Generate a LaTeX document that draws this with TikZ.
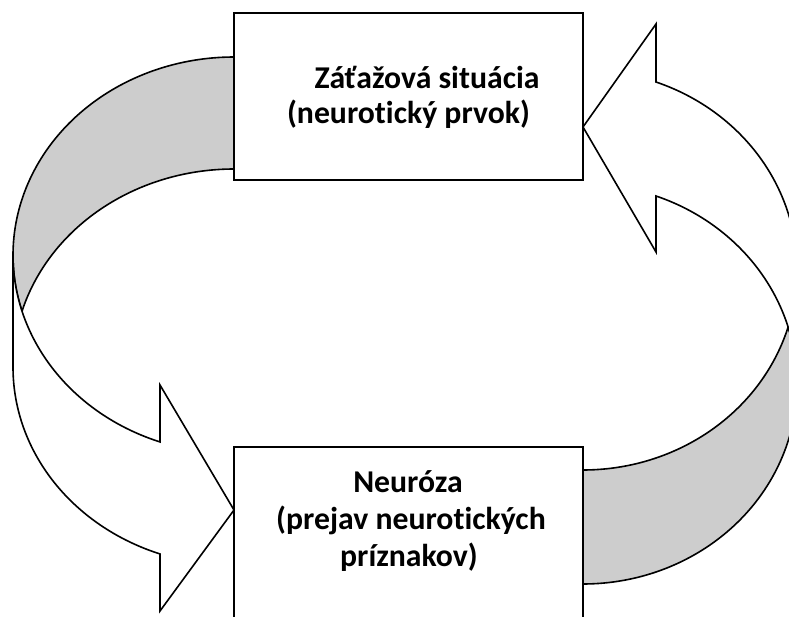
\documentclass[tikz,border=0pt]{standalone}
\usepackage{fontspec}
\setmainfont{Carlito}[Ligatures=NoCommon]
\definecolor{bandgray}{RGB}{205,205,205}
\begin{document}
\begin{tikzpicture}[x=0.75pt,y=-0.75pt,
  outline/.style={draw=black,line width=1.2pt,line join=miter},
  backband/.style={outline,fill=bandgray},
  frontband/.style={outline,fill=white},
  boxstyle/.style={outline,fill=white,rectangle,inner sep=0pt},
  label/.style={font=\fontsize{23.8}{28.5}\selectfont\bfseries,anchor=base,inner sep=0pt}]
\clip (0,0) rectangle (789,617);
\fill[white] (0,0) rectangle (789,617);
% ---- left curved arrow (points to lower box) ----
\coordinate (tipL) at (234,510);
\filldraw[backband] plot[domain=270:196.41,samples=80] ({234+221*cos(\x)},{367.2+198.2*sin(\x)})
  -- plot[domain=163.59:270,samples=80] ({234+221*cos(\x)},{255.2+198.2*sin(\x)}) -- cycle;
\filldraw[frontband] plot[domain=180:109.56,samples=80] ({234+221*cos(\x)},{255.2+198.2*sin(\x)})
  -- (160,385) -- (tipL) -- (160,611)
  -- plot[domain=109.56:180,samples=80] ({234+221*cos(\x)},{367.2+198.2*sin(\x)}) -- cycle;
% ---- right curved arrow (points to upper box) ----
\coordinate (tipR) at (583,127);
\filldraw[backband] plot[domain=90:16.56,samples=80] ({583+214*cos(\x)},{270+200*sin(\x)})
  -- plot[domain=-16.56:90,samples=80] ({583+214*cos(\x)},{384+200*sin(\x)}) -- cycle;
\filldraw[frontband] plot[domain=0:-70.05,samples=80] ({583+214*cos(\x)},{384+200*sin(\x)})
  -- (656,252) -- (tipR) -- (656,24)
  -- plot[domain=-70.05:0,samples=80] ({583+214*cos(\x)},{270+200*sin(\x)}) -- cycle;
% ---- boxes ----
\node[boxstyle,minimum width=261.75pt,minimum height=125.25pt] (top) at (408.5,96.5) {};
\node[boxstyle,minimum width=261.75pt,minimum height=159.75pt] (bottom) at (408.5,553.5) {};
% ---- texts ----
\node[label] (t1a) at (427,89) {Záťažová situácia};
\node[label] (t1b) at (408.5,123) {(neurotický prvok)};
\node[label] (t2a) at (408,492) {Neuróza};
\node[label] (t2b) at (411,529) {(prejav neurotických};
\node[label] (t2c) at (409,566) {príznakov)};
\end{tikzpicture}
\end{document}
